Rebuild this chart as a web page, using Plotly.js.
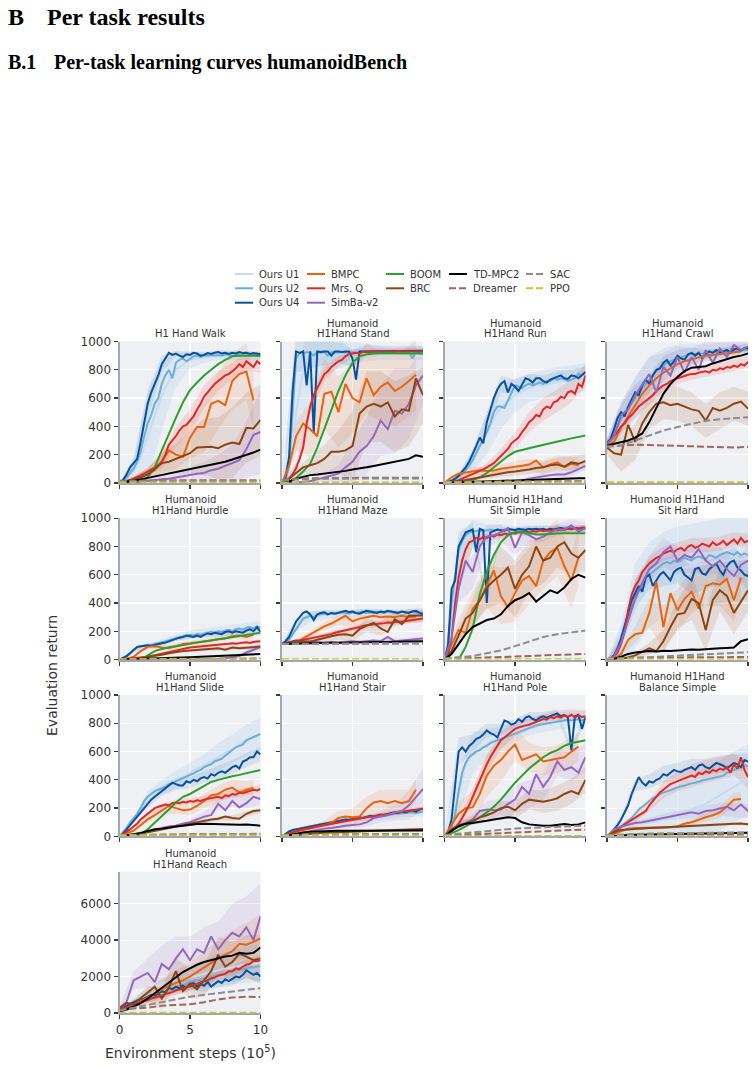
<!DOCTYPE html>
<html>
<head>
<meta charset="utf-8">
<script src="https://cdn.plot.ly/plotly-3.0.1.min.js"></script>
<style>
  html, body { margin: 0; padding: 0; background: #ffffff; }
  #chart { width: 756px; height: 1067px; }
</style>
</head>
<body>
<div id="chart"></div>
<script>
// Panel order: Walk, Stand, Run, Crawl, Hurdle, Maze, Sit Simple, Sit Hard,
// Slide, Stair, Pole, Balance Simple, Reach
const TASK_TITLES = [
  ["H1 Hand Walk"],
  ["Humanoid", "H1Hand Stand"],
  ["Humanoid", "H1Hand Run"],
  ["Humanoid", "H1Hand Crawl"],
  ["Humanoid", "H1Hand Hurdle"],
  ["Humanoid", "H1Hand Maze"],
  ["Humanoid H1Hand", "Sit Simple"],
  ["Humanoid H1Hand", "Sit Hard"],
  ["Humanoid", "H1Hand Slide"],
  ["Humanoid", "H1Hand Stair"],
  ["Humanoid", "H1Hand Pole"],
  ["Humanoid H1Hand", "Balance Simple"],
  ["Humanoid", "H1Hand Reach"]
];

// Evaluation steps (x 10^5) for the three logging resolutions
const STEP_FINE = 0.25;   // Ours U2 / U4, Mrs. Q
const STEP_MID = 0.5;     // Ours U1, BMPC, BOOM, BRC, SimBa-v2, TD-MPC2
const STEP_COARSE = 1.0;  // Dreamer, SAC, PPO

const X_TICKS = [0, 5, 10];
const Y_TICKS = [0, 200, 400, 600, 800, 1000];
const Y_TICKS_REACH = [0, 2000, 4000, 6000];

// ---- mean returns ----
const oursU4 = [
  [0,20,60,110,140,170,290,420,560,640,700,760,840,880,920,905,915,900,890,910,905,920,915,900,905,918,912,920,925,915,920,912,920,915,925,918,920,912,918,915,910],
  [0,40,180,650,930,920,930,690,930,350,930,925,930,930,900,930,930,925,930,930,880,730,930,930,935,930,935,930,935,930,935,935,930,935,935,930,935,935,935,935,935],
  [0,5,15,30,50,80,110,150,200,260,320,280,430,520,600,660,700,720,640,700,680,650,700,740,730,710,740,740,720,710,730,740,750,760,740,735,760,755,740,760,785],
  [280,310,380,460,500,470,540,590,640,620,690,730,700,760,800,810,850,870,830,860,900,880,870,910,920,900,920,880,910,930,920,940,920,930,940,920,945,950,935,955,950],
  [0,10,25,45,70,90,95,100,100,98,105,110,115,120,130,140,150,155,160,170,165,160,170,160,175,185,180,190,185,180,195,200,190,200,195,190,205,215,200,230,195],
  [110,130,160,220,270,300,330,340,320,280,320,330,335,320,330,325,330,340,345,335,340,330,325,335,345,340,335,330,340,335,345,340,335,330,340,335,330,340,345,330,320],
  [0,100,500,560,800,850,900,910,920,760,925,915,400,900,910,920,915,910,925,920,915,925,920,915,925,920,925,920,925,915,925,920,925,930,925,930,925,930,925,930,928],
  [0,10,30,80,150,250,330,420,470,520,480,580,600,520,560,600,620,590,560,620,640,650,600,580,560,640,650,610,600,640,660,680,630,600,660,690,700,650,630,600,590],
  [0,20,50,80,110,140,170,200,230,260,280,300,320,340,360,380,370,360,360,390,380,400,390,410,420,410,440,430,450,460,450,470,490,500,480,530,540,560,560,600,580],
  [0,20,35,45,50,55,60,65,70,72,78,82,88,92,100,105,110,115,120,118,125,130,135,130,140,145,140,150,155,150,160,165,170,165,175,170,180,185,175,190,195],
  [0,30,120,380,600,630,600,640,660,690,700,720,750,730,720,700,760,820,810,790,800,830,810,840,850,830,820,840,850,840,850,860,870,850,860,840,610,850,860,760,845],
  [0,20,50,80,120,170,220,300,360,420,380,360,390,380,400,410,440,430,450,470,460,455,470,480,490,470,500,510,490,480,500,520,510,500,480,500,520,510,490,540,530],
  [150,300,400,500,600,700,750,800,900,1000,950,1100,1200,1150,1400,1300,1450,1350,1500,1400,1600,1650,1450,1600,1500,1700,1450,1600,1750,1650,1850,1750,1900,2000,1950,2100,2350,2200,2100,2200,2000]
];

const oursU2 = [
  [0,10,40,70,100,150,220,330,420,480,560,600,700,760,800,740,850,870,880,860,880,895,900,890,905,900,905,900,905,900,910,905,900,905,910,905,900,905,910,905,900],
  [0,20,120,500,880,920,915,925,920,900,925,920,925,900,925,920,925,925,920,925,925,920,925,925,930,925,930,925,930,925,930,930,925,930,930,925,930,880,930,925,930],
  [0,5,12,25,40,60,90,120,160,210,260,300,360,420,500,540,540,530,580,640,690,680,670,690,700,690,700,710,700,720,720,740,730,740,735,720,730,740,770,760,785],
  [280,300,340,400,450,480,520,560,600,640,670,700,730,760,790,810,830,850,860,870,880,890,900,905,910,910,915,915,920,920,925,925,930,930,930,935,935,935,940,940,940],
  [0,10,25,45,70,85,95,100,105,100,110,115,120,125,135,145,150,160,165,170,175,170,180,175,185,190,195,190,200,195,205,210,200,215,220,210,225,230,220,235,225],
  [110,120,140,180,220,260,290,300,310,300,315,320,325,320,330,325,330,335,330,325,335,330,335,340,330,335,330,340,335,330,340,335,330,335,340,330,335,340,330,335,330],
  [0,80,400,600,780,840,880,900,905,910,915,910,915,920,915,920,910,920,915,920,920,915,920,925,920,925,920,925,920,925,925,920,925,925,920,925,925,930,925,925,930],
  [0,10,30,70,130,200,300,380,440,490,540,580,600,620,640,660,680,690,680,700,690,700,720,710,700,720,730,720,710,740,730,720,740,750,760,750,740,760,740,750,740],
  [0,30,60,100,130,160,200,250,280,300,320,330,340,350,370,375,390,400,410,420,430,445,460,470,490,500,510,530,540,550,570,590,610,630,640,650,680,690,700,710,725],
  [0,15,30,40,45,50,55,60,65,70,75,78,82,88,92,98,102,108,112,115,120,122,128,130,135,138,140,145,148,150,152,155,158,160,162,165,168,170,165,172,175],
  [0,20,60,150,320,450,520,560,580,600,610,630,640,660,670,680,690,700,710,720,730,740,750,760,770,780,785,790,795,800,805,810,815,820,820,825,820,825,830,820,830],
  [0,10,30,50,70,90,110,130,160,190,210,230,250,270,280,300,310,320,330,340,350,355,360,370,375,380,390,395,400,405,410,420,425,430,450,460,470,480,490,500,500],
  [150,250,350,450,550,600,700,750,850,900,1000,1050,1150,1200,1300,1350,1450,1500,1550,1600,1700,1750,1800,1850,1900,1950,2000,2050,2100,2150,2200,2250,2300,2350,2400,2400,2450,2500,2500,2550,2550]
];

const oursU1 = [
  [0,30,80,180,330,480,620,720,800,840,870,880,890,895,900,900,905,905,900,905,900],
  [0,80,500,800,880,900,905,910,910,915,915,915,920,920,920,920,920,920,920,920,920],
  [0,10,40,90,160,250,350,460,530,580,620,650,670,690,700,710,720,725,730,740,750],
  [270,330,430,520,600,680,740,790,830,860,880,895,905,915,920,925,930,935,935,940,940],
  [0,20,60,85,95,105,120,140,155,165,175,185,190,195,200,205,210,215,220,225,230],
  [110,150,230,280,300,310,315,320,325,325,330,330,330,330,330,330,330,330,330,330,330],
  [0,300,700,850,890,900,905,910,910,915,915,915,920,920,920,920,920,920,920,920,920],
  [0,20,100,250,380,470,530,570,600,620,640,650,660,670,680,690,700,700,710,710,720],
  [0,50,110,200,280,320,350,380,400,420,450,480,500,530,560,590,620,650,680,700,720],
  [0,30,45,55,65,75,85,95,105,115,122,128,135,140,145,150,155,160,165,170,175],
  [0,50,300,520,590,620,650,680,700,720,740,760,775,790,800,810,815,820,825,825,830],
  [0,20,40,60,80,100,110,120,140,150,160,170,190,210,230,260,290,320,350,380,400],
  [150,350,550,750,950,1150,1350,1500,1650,1800,1950,2050,2150,2250,2350,2450,2500,2600,2650,2700,2750]
];

const bmpc = [
  [0,10,25,40,60,90,150,230,200,185,320,396,396,560,580,550,720,770,787,585],
  [0,120,330,420,380,330,630,645,500,700,600,570,740,620,680,710,650,680,720,765],
  [0,40,65,75,85,90,85,88,100,110,115,122,130,158,110,130,145,112,135,125],
  [260,290,390,470,560,630,690,740,780,810,840,860,875,890,900,905,910,920,925,930],
  [0,5,20,60,90,95,85,80,95,110,115,120,125,135,145,150,165,170,160,175],
  [110,115,120,150,180,210,235,255,280,310,270,290,300,310,300,305,300,310,300,305],
  [0,100,210,190,360,420,520,630,450,370,470,560,590,520,700,760,790,660,560,720],
  [0,5,40,140,180,190,330,550,230,470,350,430,480,360,520,540,530,570,420,580],
  [0,20,40,80,120,150,185,215,200,185,190,215,250,290,300,330,345,310,330,345],
  [0,20,35,45,55,65,80,95,130,140,135,140,200,240,250,235,250,235,250,330],
  [0,80,160,200,205,300,430,500,540,600,650,540,560,580,530,540,545,560,600,635],
  [0,20,40,55,60,60,62,60,62,65,70,90,100,120,135,150,170,210,260,265],
  [100,200,400,650,850,1050,1300,1500,1650,1800,2000,2250,2500,2750,3000,3200,3400,3800,3750,3900,4100]
];

const mrsQ = [
  [0,5,12,20,30,40,50,65,80,95,110,125,150,200,270,300,330,370,400,410,440,470,520,560,610,640,670,700,720,740,760,770,790,810,840,820,860,840,820,860,840],
  [0,10,30,60,105,170,250,420,540,620,670,720,770,790,820,840,860,870,895,910,915,920,915,925,925,928,930,925,930,928,930,930,928,932,930,930,932,930,932,930,930],
  [0,2,5,10,20,30,40,50,60,70,85,95,110,125,140,165,190,210,240,280,300,320,360,390,430,450,480,470,520,540,530,570,580,610,600,640,650,630,700,680,760],
  [270,300,330,360,400,420,460,480,510,540,560,580,600,620,650,670,690,700,720,730,740,750,760,765,770,770,780,785,790,780,800,795,810,805,820,815,830,820,840,830,855],
  [0,2,5,8,10,12,15,18,20,25,30,35,40,45,50,55,65,70,75,80,85,88,90,92,95,98,100,102,105,108,110,112,115,112,118,120,122,118,125,128,130],
  [110,115,120,125,130,135,140,142,147,150,155,160,170,175,180,190,195,200,210,215,220,225,230,240,242,245,250,248,255,258,262,260,265,270,268,275,277,280,285,288,290],
  [0,40,150,400,580,700,780,830,840,860,850,870,860,880,870,885,880,890,885,895,890,900,895,905,900,910,905,915,910,915,912,920,915,920,918,925,920,930,925,935,935],
  [0,5,20,50,110,200,350,460,520,560,620,650,680,700,720,730,750,760,770,760,780,790,770,800,810,790,800,820,810,800,830,810,820,840,810,830,850,820,860,830,840],
  [0,15,30,50,70,90,120,140,160,180,200,210,215,225,220,235,240,235,245,240,250,245,255,250,260,265,270,275,280,270,290,285,300,295,310,305,315,320,330,325,335],
  [0,10,20,30,38,45,50,55,60,65,70,75,80,85,90,95,100,105,110,112,118,122,128,130,135,140,142,148,150,155,158,162,165,170,172,175,180,182,185,190,195],
  [0,10,30,60,90,130,170,220,280,340,400,460,510,560,600,650,680,700,720,740,760,770,780,785,790,800,810,820,830,825,845,835,850,840,855,845,860,840,855,845,850],
  [0,10,30,50,70,85,100,115,130,150,165,180,220,250,280,310,330,350,370,380,390,400,410,420,430,420,450,440,460,450,470,460,480,470,490,450,510,480,560,470,420],
  [150,250,300,350,450,500,600,650,700,800,850,900,950,1050,1100,1150,1250,1300,1350,1450,1450,1550,1600,1700,1750,1800,1900,1950,2050,2100,2150,2300,2300,2450,2400,2550,2650,2700,2850,2850,2900]
];

const simbaV2 = [
  [0,0,5,8,12,18,25,30,40,45,55,65,70,90,100,120,140,160,240,340,360],
  [0,0,3,6,12,25,40,55,65,110,150,220,260,330,440,380,510,490,560,690,760],
  [0,0,2,3,4,5,6,7,8,9,10,15,30,40,50,55,60,60,75,100,120],
  [270,330,480,520,620,700,770,640,820,760,890,780,890,800,940,850,950,890,975,940,965],
  [0,0,0,0,0,1,1,2,2,3,3,4,4,5,5,10,15,25,50,70,88],
  [110,120,130,125,130,125,120,125,120,125,130,125,130,135,130,160,130,135,140,145,150],
  [0,150,500,700,620,800,870,880,900,930,790,900,880,850,870,900,920,920,950,905,930],
  [0,20,120,280,430,540,640,680,760,800,700,740,720,780,700,660,700,640,590,670,700],
  [0,5,10,20,35,50,60,70,75,90,100,120,140,150,230,185,250,205,235,280,265],
  [0,10,20,30,40,50,55,60,70,75,80,85,100,130,140,150,170,180,220,280,335],
  [0,40,80,95,120,180,190,185,190,230,260,350,300,440,350,420,530,470,490,450,560],
  [0,50,70,85,95,100,110,120,135,140,150,165,170,160,180,185,195,210,185,225,180],
  [300,600,1800,2000,2200,1700,2700,2400,3000,3500,2900,3500,3300,4200,3500,4000,4400,4200,4700,4000,5300]
];

// BOOM was only evaluated on a subset of tasks (empty = not run)
const boom = [
  [-60,-40,-20,0,40,110,230,350,460,570,656,710,760,800,840,870,895,900,900,900,898],
  [0,5,35,80,135,250,380,520,650,760,850,895,910,915,918,918,917,917,916,916,915],
  [0,2,5,10,20,40,70,110,150,190,220,230,245,258,268,280,292,303,315,325,335],
  [],
  [-50,-40,-20,0,30,60,75,88,95,105,112,120,128,136,145,152,160,168,175,182,190],
  [],
  [-150,-80,0,90,220,460,620,740,830,880,900,905,895,885,885,890,892,893,893,893,893],
  [],
  [-100,-60,-20,15,50,95,140,190,240,280,300,330,360,385,400,415,425,435,445,455,470],
  [],
  [0,20,45,70,100,135,170,210,260,320,380,430,480,520,560,590,610,640,660,670,680],
  [],
  []
];

const brc = [
  [0,10,25,40,60,100,140,150,170,190,210,250,255,255,245,270,285,275,390,385,445],
  [0,30,70,110,125,140,170,220,220,230,260,490,540,560,540,570,470,520,510,740,620],
  [0,5,10,20,30,40,50,60,65,75,80,85,95,105,110,125,130,115,145,135,155],
  [250,210,200,410,290,420,500,560,570,550,560,540,520,510,440,530,510,530,560,575,525],
  [0,2,5,10,20,25,35,45,55,60,65,70,72,75,80,70,85,80,85,90,92],
  [110,125,135,130,125,140,155,165,175,180,170,215,240,260,220,195,285,250,310,310,312],
  [0,60,170,290,330,420,510,560,600,650,500,600,660,800,700,720,800,830,750,720,775],
  [0,2,5,15,30,55,80,60,130,230,320,330,430,400,210,420,490,450,330,410,490],
  [0,5,10,20,30,40,50,60,70,80,90,100,110,120,125,140,130,125,160,180,185],
  [0,5,10,15,20,22,25,28,30,32,34,36,38,40,42,44,46,48,50,50,52],
  [0,50,80,90,110,135,150,170,200,210,185,230,260,250,245,255,270,300,320,300,400],
  [0,30,45,50,55,58,60,62,65,67,70,72,75,77,80,82,85,87,90,92,85],
  [250,550,500,800,1100,1450,800,1400,2300,1200,1600,1300,1800,2300,3200,2550,2800,3250,3100,2900,3000]
];

const tdmpc2 = [
  [0,5,15,25,35,45,55,65,75,85,95,105,115,125,140,150,165,180,200,215,235],
  [0,10,30,45,55,60,65,70,75,85,95,100,110,120,130,140,150,160,170,195,185],
  [0,2,5,7,9,11,13,15,17,19,20,22,24,25,27,28,30,31,32,33,33],
  [265,275,285,300,320,350,430,530,630,700,750,790,815,820,825,845,860,880,890,900,915],
  [0,1,2,3,5,6,8,10,12,14,16,18,20,22,24,26,28,31,34,37,40],
  [110,112,114,115,116,117,118,119,120,121,122,122,123,124,125,126,127,128,129,130,130],
  [0,40,110,180,230,255,280,290,320,380,420,440,470,410,450,490,470,510,570,600,580],
  [0,5,20,40,50,55,60,58,62,60,65,70,72,70,75,78,80,82,85,130,145],
  [0,5,15,25,40,50,55,65,70,75,82,88,90,88,85,85,80,82,85,80,76],
  [0,10,20,28,33,36,38,40,40,40,40,41,41,41,41,42,42,42,42,42,42],
  [0,40,70,90,95,100,110,120,130,135,130,100,85,78,75,76,80,88,80,85,99],
  [0,5,8,10,12,13,14,15,16,17,18,18,19,20,20,21,22,22,23,24,25],
  [100,200,350,550,800,1100,1400,1700,2000,2250,2450,2650,2800,2900,3000,3100,3150,3300,3250,3300,3600]
];

const dreamer = [
  [15,17,18,18,18,18,18,18,18,18,18],
  [20,30,33,35,35,36,36,37,37,37,37],
  [5,8,10,10,11,11,12,12,12,12,12],
  [260,265,270,268,265,262,260,255,252,250,255],
  [2,4,5,5,6,6,6,7,7,7,7],
  [110,112,113,113,114,114,115,115,115,115,115],
  [5,8,10,12,15,20,25,30,35,38,40],
  [5,8,10,12,14,15,16,17,18,18,18],
  [5,8,10,12,14,15,16,17,18,18,18],
  [5,8,10,12,13,14,15,15,16,16,16],
  [5,10,15,20,25,30,35,38,42,45,47],
  [5,8,10,12,14,15,16,17,18,18,18],
  [150,250,300,400,450,480,600,750,850,900,880]
];

const sac = [
  [10,12,12,13,13,13,14,14,14,14,14],
  [20,25,28,30,30,31,31,32,32,32,32],
  [5,6,7,7,8,8,8,9,9,9,9],
  [255,265,300,335,370,395,415,440,450,460,465],
  [2,3,4,4,5,5,5,5,6,6,6],
  [110,111,112,112,113,113,113,113,114,114,114],
  [10,15,25,45,65,95,130,160,180,195,205],
  [5,8,12,18,22,28,32,38,42,48,52],
  [10,12,13,14,15,15,16,16,17,17,17],
  [10,12,13,14,15,15,16,16,17,17,17],
  [10,20,30,40,50,55,60,64,68,72,76],
  [10,15,18,20,22,24,25,26,27,28,28],
  [150,300,450,600,750,900,1000,1100,1200,1300,1370]
];

const ppo = [
  [2,2,2,2,2,2,2,2,2,2,2],
  [3,3,3,3,3,3,3,3,3,3,3],
  [3,3,3,3,3,3,3,3,3,3,3],
  [4,4,4,4,4,4,4,4,4,4,4],
  [2,2,2,2,2,2,2,2,2,2,2],
  [3,3,3,3,3,3,3,3,3,3,3],
  [3,3,3,3,3,3,3,3,3,3,3],
  [3,3,3,3,3,3,3,3,3,3,3],
  [6,6,6,6,6,6,6,6,6,6,6],
  [6,6,6,6,6,6,6,6,6,6,6],
  [3,3,3,3,3,3,3,3,3,3,3],
  [3,3,3,3,3,3,3,3,3,3,3],
  [20,20,20,20,20,20,20,20,20,20,20]
];

// ---- spread (half-width of the shaded band) at x = 0,1,...,10 ----
const oursU1Spread = [
  [0,80,300,250,120,60,40,30,30,30,30],
  [0,300,250,150,100,80,60,50,50,50,50],
  [0,30,80,150,150,120,100,100,100,100,100],
  [40,120,150,150,120,100,80,60,60,50,50],
  [0,10,20,20,25,30,30,35,35,40,40],
  [10,30,40,30,30,25,25,25,25,25,25],
  [0,150,100,50,40,30,30,30,30,30,30],
  [0,150,300,300,300,300,300,300,300,300,300],
  [0,20,40,50,60,70,80,100,100,110,120],
  [0,10,15,15,20,20,20,25,25,25,30],
  [0,150,150,100,80,70,60,60,60,60,60],
  [0,30,60,100,150,200,250,250,250,250,250],
  [50,300,400,500,600,700,800,900,900,1000,1000]
];
const oursU4Spread = [
  [0,40,100,60,20,20,15,15,15,15,15],
  [0,150,120,100,80,60,40,30,30,30,30],
  [0,10,30,60,60,50,40,40,40,40,40],
  [30,60,60,60,50,40,40,30,30,30,30],
  [0,8,12,15,15,20,20,20,20,25,25],
  [5,20,20,15,15,15,15,15,15,15,15],
  [0,100,50,30,20,20,20,20,20,20,20],
  [0,50,100,100,100,100,100,100,100,100,100],
  [0,15,30,30,40,40,40,50,50,50,50],
  [0,5,8,10,10,10,12,12,15,15,15],
  [0,100,60,50,40,30,30,30,30,30,30],
  [0,20,40,50,60,60,60,60,60,60,60],
  [50,150,200,250,300,300,350,350,400,400,400]
];
const mrsQSpread = [
  [0,15,25,50,70,80,80,70,60,60,60],
  [0,40,60,50,40,30,20,20,20,20,20],
  [0,10,20,30,50,60,70,80,80,80,80],
  [30,50,50,50,40,40,40,40,40,40,40],
  [0,5,5,8,10,10,12,12,12,12,12],
  [5,10,15,15,15,20,20,20,20,20,20],
  [0,100,50,30,20,20,20,20,20,20,20],
  [0,30,50,50,50,50,50,50,50,50,50],
  [0,10,15,15,20,20,25,25,30,30,30],
  [0,5,8,10,10,10,12,12,15,15,15],
  [0,30,50,60,60,50,40,40,40,40,40],
  [0,20,30,40,60,70,80,80,80,80,80],
  [50,100,150,150,200,200,250,250,300,300,300]
];
const bmpcSpread = [
  [0,20,40,80,100,150,180,200,200,200],
  [0,100,200,250,250,250,250,250,250,250],
  [0,20,30,30,30,40,40,50,50,50],
  [30,60,60,60,50,50,40,40,40,40],
  [0,5,15,20,20,20,20,20,20,20],
  [5,15,20,30,35,40,40,40,40,40],
  [0,80,120,150,200,200,200,200,200,200],
  [0,20,60,100,150,150,150,150,150,150],
  [0,10,20,30,40,40,50,60,60,60],
  [0,10,20,30,50,60,80,80,80,80],
  [0,80,120,150,150,120,100,100,100,100],
  [0,10,10,10,10,15,20,30,40,50],
  [50,200,400,600,700,800,900,1000,1100,1200,1300]
];
const brcSpread = [
  [0,20,40,70,100,150,200,220,250,250,250],
  [0,30,60,100,150,250,250,250,250,250,200],
  [0,10,15,20,25,30,35,40,50,50,50],
  [50,120,130,120,120,120,120,120,130,120,120],
  [0,5,5,8,10,10,12,15,15,15,15],
  [5,15,20,30,35,40,45,50,50,50,50],
  [0,60,100,150,200,200,180,160,150,150,150],
  [0,10,20,40,80,100,150,150,150,150,150],
  [0,5,5,10,10,10,15,15,20,20,20],
  [0,5,5,5,8,8,8,10,10,10,10],
  [0,20,30,40,50,60,70,80,90,90,90],
  [0,5,5,5,5,8,8,10,10,10,10],
  [50,200,400,600,700,800,900,1000,1100,1200,1300]
];
const simbaSpread = [
  [0,10,20,30,40,60,80,100,130,200,300],
  [0,5,10,30,60,150,200,250,300,250,200],
  [0,2,5,5,10,10,15,20,25,30,30],
  [40,100,120,120,100,80,60,60,50,50,40],
  [0,0,2,2,3,3,3,5,8,20,25],
  [5,8,10,10,10,10,10,15,15,15,15],
  [0,100,120,80,60,50,50,40,40,40,40],
  [0,30,80,100,100,100,100,100,100,100,100],
  [0,5,5,10,10,20,30,40,40,40,40],
  [0,5,10,10,15,20,30,40,60,100,150],
  [0,20,40,60,80,100,100,100,100,100,100],
  [0,10,15,20,25,30,35,40,45,50,50],
  [100,500,800,1000,1200,1300,1400,1500,1600,1700,1800]
];

// ---- series styles (drawing order = legend order) ----
const SERIES = [
  { name: "Ours U1", data: oursU1, step: STEP_MID, color: "#c6dbef", dash: "solid", width: 2, spread: oursU1Spread, band: "rgba(198,219,239,0.45)" },
  { name: "Ours U2", data: oursU2, step: STEP_FINE, color: "#6baed6", dash: "solid", width: 2 },
  { name: "Ours U4", data: oursU4, step: STEP_FINE, color: "#08519c", dash: "solid", width: 2, spread: oursU4Spread, band: "rgba(8,81,156,0.10)" },
  { name: "BMPC", data: bmpc, step: STEP_MID, color: "#e6650e", dash: "solid", width: 2, spread: bmpcSpread, band: "rgba(230,101,14,0.12)" },
  { name: "Mrs. Q", data: mrsQ, step: STEP_FINE, color: "#de2a26", dash: "solid", width: 2, spread: mrsQSpread, band: "rgba(222,42,38,0.12)" },
  { name: "SimBa-v2", data: simbaV2, step: STEP_MID, color: "#9467bd", dash: "solid", width: 2, spread: simbaSpread, band: "rgba(148,103,189,0.12)" },
  { name: "BOOM", data: boom, step: STEP_MID, color: "#2ca02c", dash: "solid", width: 2 },
  { name: "BRC", data: brc, step: STEP_MID, color: "#8b4513", dash: "solid", width: 2, spread: brcSpread, band: "rgba(139,69,19,0.12)" },
  { name: "TD-MPC2", data: tdmpc2, step: STEP_MID, color: "#000000", dash: "solid", width: 2 },
  { name: "Dreamer", data: dreamer, step: STEP_COARSE, color: "#a0665c", dash: "7px,3px", width: 2 },
  { name: "SAC", data: sac, step: STEP_COARSE, color: "#8c8c8c", dash: "7px,3px", width: 2 },
  { name: "PPO", data: ppo, step: STEP_COARSE, color: "#c8c82a", dash: "7px,3px", width: 2 }
];

// legend grid: [column, row]
const LEGEND_POS = {
  "Ours U1": [0, 0], "Ours U2": [0, 1], "Ours U4": [0, 2],
  "BMPC": [1, 0], "Mrs. Q": [1, 1], "SimBa-v2": [1, 2],
  "BOOM": [2, 0], "BRC": [2, 1],
  "TD-MPC2": [3, 0], "Dreamer": [3, 1],
  "SAC": [4, 0], "PPO": [4, 1]
};

// ---- page geometry (pixels) ----
const W = 756, H = 1067;
const COL_LEFT = [119.5, 282, 444.5, 607];
const PANEL_W = 141;
const ROW_TOP = [341.5, 518.2, 695, 871.7];
const PANEL_H = 141.4;
const LEG_COL_X = [235, 307, 386, 449, 526];
const LEG_ROW_Y = [274, 288.3, 302.7];

const px = v => v / W;
const py = v => 1 - v / H;
const FONT = "DejaVu Sans, Liberation Sans, sans-serif";
const TXT = "#333333";

function xsFor(n, step) {
  const xs = [];
  for (let i = 0; i < n; i++) xs.push(i * step);
  return xs;
}

function bandFor(vals, step, spread) {
  const xs = [], up = [], lo = [];
  const last = (vals.length - 1) * step;
  let k = 0;
  for (; k < spread.length && k <= last + 1e-9; k++) {
    const v = vals[Math.round(k / step)];
    xs.push(k); up.push(v + spread[k]); lo.push(v - spread[k]);
  }
  if (last > xs[xs.length - 1] + 1e-9) {
    const s = spread[Math.min(spread.length - 1, k - 1)];
    const v = vals[vals.length - 1];
    xs.push(last); up.push(v + s); lo.push(v - s);
  }
  return {
    x: xs.concat(xs.slice().reverse()),
    y: up.concat(lo.slice().reverse())
  };
}

const traces = [];
const layout = {
  width: W, height: H,
  margin: { l: 0, r: 0, t: 0, b: 0 },
  paper_bgcolor: "#ffffff",
  plot_bgcolor: "#eff0f3",
  showlegend: false,
  font: { family: FONT, color: TXT },
  annotations: [],
  shapes: []
};

for (let p = 0; p < TASK_TITLES.length; p++) {
  const sfx = p === 0 ? "" : String(p + 1);
  const r = Math.floor(p / 4), c = p % 4;
  const left = COL_LEFT[c], top = ROW_TOP[r];
  const isReach = p === 12;

  layout["xaxis" + sfx] = {
    domain: [px(left), px(left + PANEL_W)],
    anchor: "y" + sfx,
    range: [0, 10],
    tickvals: X_TICKS,
    showticklabels: p === 12,
    tickfont: { family: FONT, size: 12, color: TXT },
    ticks: "outside", ticklen: 4, tickwidth: 1.3, tickcolor: "#3a3a3a",
    showgrid: true, gridcolor: "#ffffff", gridwidth: 1.2,
    showline: true, linecolor: "#a2a7b0", linewidth: 2,
    zeroline: false, fixedrange: true
  };
  layout["yaxis" + sfx] = {
    domain: [py(top + PANEL_H), py(top)],
    anchor: "x" + sfx,
    range: isReach ? [0, 7750] : [0, 1000],
    tickvals: isReach ? Y_TICKS_REACH : Y_TICKS,
    showticklabels: c === 0,
    tickfont: { family: FONT, size: 12, color: TXT },
    ticks: "outside", ticklen: 4, tickwidth: 1.3, tickcolor: "#3a3a3a",
    showgrid: true, gridcolor: "#ffffff", gridwidth: 1.2,
    showline: true, linecolor: "#a2a7b0", linewidth: 2,
    zeroline: false, fixedrange: true
  };

  // shaded bands first
  SERIES.forEach(s => {
    const vals = s.data[p];
    if (!s.spread || !vals || vals.length === 0) return;
    const b = bandFor(vals, s.step, s.spread[p]);
    traces.push({
      type: "scatter", mode: "lines", x: b.x, y: b.y,
      xaxis: "x" + sfx, yaxis: "y" + sfx,
      fill: "toself", fillcolor: s.band,
      line: { width: 0, color: "rgba(0,0,0,0)" },
      hoverinfo: "skip", showlegend: false
    });
  });

  // mean curves
  SERIES.forEach(s => {
    const vals = s.data[p];
    if (!vals || vals.length === 0) return;
    traces.push({
      type: "scatter", mode: "lines",
      x: xsFor(vals.length, s.step), y: vals,
      xaxis: "x" + sfx, yaxis: "y" + sfx,
      line: { color: s.color, width: s.width, dash: s.dash },
      name: s.name, showlegend: false
    });
  });

  // panel title (one or two lines)
  const lines = TASK_TITLES[p];
  const cx = px(left + PANEL_W / 2);
  if (lines.length === 1) {
    layout.annotations.push({ xref: "paper", yref: "paper", x: cx, y: py(top - 8), xanchor: "center", yanchor: "middle",
      text: lines[0], showarrow: false, font: { family: FONT, size: 10, color: TXT } });
  } else {
    layout.annotations.push({ xref: "paper", yref: "paper", x: cx, y: py(top - 18.5), xanchor: "center", yanchor: "middle",
      text: lines[0], showarrow: false, font: { family: FONT, size: 10, color: TXT } });
    layout.annotations.push({ xref: "paper", yref: "paper", x: cx, y: py(top - 7.5), xanchor: "center", yanchor: "middle",
      text: lines[1], showarrow: false, font: { family: FONT, size: 10, color: TXT } });
  }
}

// legend
SERIES.forEach(s => {
  const [col, row] = LEGEND_POS[s.name];
  const x0 = LEG_COL_X[col], y0 = LEG_ROW_Y[row];
  layout.shapes.push({
    type: "line", xref: "paper", yref: "paper",
    x0: px(x0), x1: px(x0 + 18), y0: py(y0), y1: py(y0),
    line: { color: s.color, width: 2, dash: s.dash }
  });
  layout.annotations.push({
    xref: "paper", yref: "paper", x: px(x0 + 22), y: py(y0),
    xanchor: "left", yanchor: "middle", text: s.name, showarrow: false,
    font: { family: FONT, size: 10, color: TXT }
  });
});

// axis titles
layout.annotations.push({
  xref: "paper", yref: "paper", x: px(52), y: py(676), xanchor: "center", yanchor: "middle",
  text: "Evaluation return", textangle: -90, showarrow: false,
  font: { family: FONT, size: 14, color: TXT }
});
layout.annotations.push({
  xref: "paper", yref: "paper", x: px(190), y: py(1052), xanchor: "center", yanchor: "middle",
  text: "Environment steps (10<sup>5</sup>)", showarrow: false,
  font: { family: FONT, size: 14, color: TXT }
});

// document headings
const SERIF = "Liberation Serif, Times New Roman, serif";
layout.annotations.push({ xref: "paper", yref: "paper", x: px(6), y: py(17), xanchor: "left", yanchor: "middle",
  text: "<b>B</b>", showarrow: false, font: { family: SERIF, size: 24, color: "#000" } });
layout.annotations.push({ xref: "paper", yref: "paper", x: px(45), y: py(17), xanchor: "left", yanchor: "middle",
  text: "<b>Per task results</b>", showarrow: false, font: { family: SERIF, size: 24, color: "#000" } });
layout.annotations.push({ xref: "paper", yref: "paper", x: px(6), y: py(62), xanchor: "left", yanchor: "middle",
  text: "<b>B.1</b>", showarrow: false, font: { family: SERIF, size: 20, color: "#000" } });
layout.annotations.push({ xref: "paper", yref: "paper", x: px(52), y: py(62), xanchor: "left", yanchor: "middle",
  text: "<b>Per-task learning curves humanoidBench</b>", showarrow: false, font: { family: SERIF, size: 20, color: "#000" } });

Plotly.newPlot("chart", traces, layout, { staticPlot: true, displayModeBar: false });
</script>
</body>
</html>
